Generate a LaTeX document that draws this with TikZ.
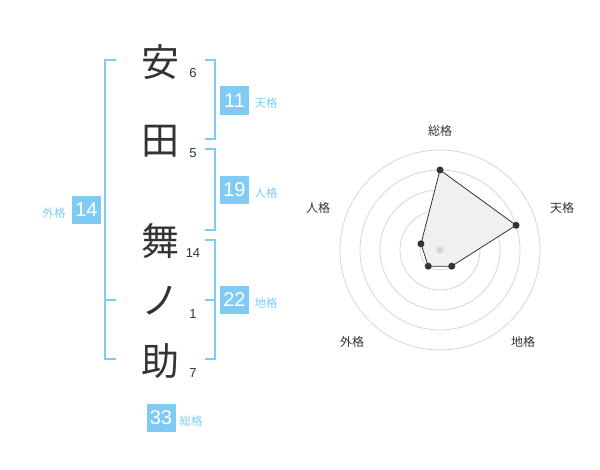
\documentclass[tikz,border=0pt]{standalone}
\usepackage{fontspec}
\setmainfont{Liberation Sans}
\newfontfamily\jpfont{Noto Sans CJK JP}

\definecolor{kakublue}{HTML}{80CBF4}
\definecolor{inkgray}{HTML}{333333}
\definecolor{ringgray}{HTML}{D6D6D6}
\definecolor{areagray}{HTML}{F0F0F0}

\tikzset{
  kanji/.style={font=\jpfont\fontsize{38}{38}\selectfont, text=inkgray, inner sep=0pt},
  strokes/.style={font=\fontsize{13}{13}\selectfont, text=inkgray, inner sep=0pt},
  kakubox/.style={fill=kakublue, text=white, minimum width=29pt, minimum height=28.5pt, inner sep=0pt, font=\fontsize{20}{20}\selectfont},
  kakuname/.style={font=\jpfont\fontsize{11.5}{11.5}\selectfont, text=kakublue, inner sep=0pt},
  axisname/.style={font=\jpfont\fontsize{12}{12}\selectfont, text=inkgray, inner sep=0pt},
  bracket/.style={draw=kakublue, line width=2pt},
  ring/.style={draw=ringgray, line width=0.8pt}
}

\begin{document}
\begin{tikzpicture}[x=1pt, y=-1pt, line width = 1pt]

\useasboundingbox (0,0) rectangle (600,470);

% name
\node[kanji] (an) at (160,62) {安};
\node[kanji] (ta) at (160,141) {田};
\node[kanji] (mai) at (160,241) {舞};
\node[kanji] (no) at (160,301) {ノ};
\node[kanji] (suke) at (160,361) {助};

\node[strokes] (s1) at (193,73) {6};
\node[strokes] (s2) at (193,153) {5};
\node[strokes] (s3) at (193,253) {14};
\node[strokes] (s4) at (193,314) {1};
\node[strokes] (s5) at (193,373) {7};

% brackets
\draw[bracket] (116,60)--(105,60)--(105,359)--(116,359);
\draw[bracket] (105,300)--(116,300);
\draw[bracket] (205,60)--(215,60)--(215,139)--(205,139);
\draw[bracket] (205,149)--(215,149)--(215,230)--(205,230);
\draw[bracket] (205,240)--(215,240)--(215,359)--(205,359);
\draw[bracket] (215,300)--(205,300);

% kaku
\node[kakubox] (ten) at (234.5,100.5) {11};
\node[kakuname, right] at (254,103) {天格};
\node[kakubox] (jin) at (234.5,190) {19};
\node[kakuname, right] at (254,193) {人格};
\node[kakubox] (chi) at (234.5,300) {22};
\node[kakuname, right] at (254,303) {地格};
\node[kakubox] (gai) at (86.5,210) {14};
\node[kakuname, left] at (66,213) {外格};
\node[kakubox] (sou) at (161,418) {33};
\node[kakuname, right] at (179,421) {総格};

% radar
\begin{scope}[shift={(440,250)}, yscale=-1]
\foreach \r in {20,40,60,80,100}
  \draw[ring] (0,0) circle (\r);
\coordinate (rsou) at (90:80);
\coordinate (rten) at (18:80);
\coordinate (rchi) at (-54:20);
\coordinate (rgai) at (-126:20);
\coordinate (rjin) at (162:20);
\filldraw[fill=areagray, draw=inkgray, line width=0.8pt] (rsou)--(rten)--(rchi)--(rgai)--(rjin)--cycle;
\fill[ringgray] (0,0) circle (3.5);
\foreach \p in {rsou,rten,rchi,rgai,rjin}
  \fill[inkgray] (\p) circle (3.5);
\end{scope}

\node[axisname] (lsou) at (440,131) {総格};
\node[axisname] (lten) at (562,208) {天格};
\node[axisname] (lchi) at (523,342) {地格};
\node[axisname] (lgai) at (352,342) {外格};
\node[axisname] (ljin) at (318,208) {人格};

\end{tikzpicture}
\end{document}
